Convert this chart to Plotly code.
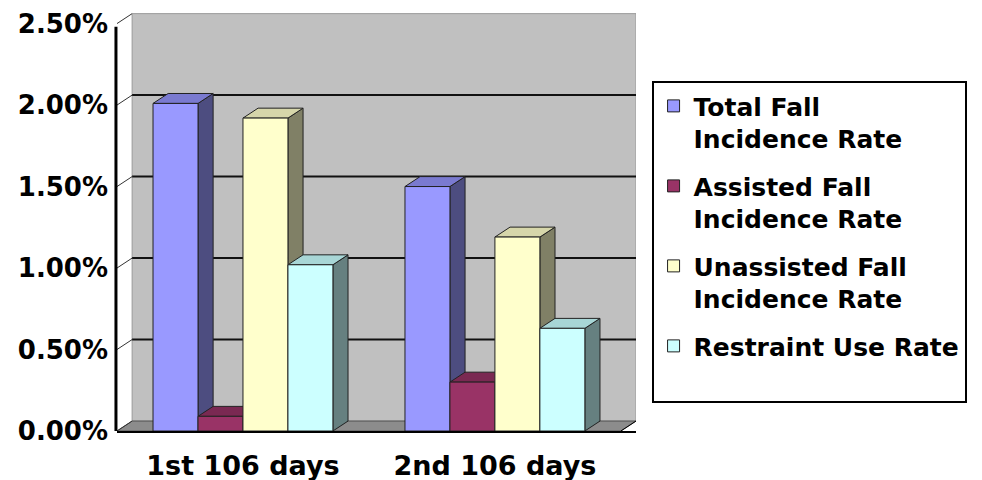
import plotly.graph_objects as go

# ---- data (values in percent) ----
categories = ["1st 106 days", "2nd 106 days"]
series_names = ["Total Fall<br>Incidence Rate", "Assisted Fall<br>Incidence Rate",
                "Unassisted Fall<br>Incidence Rate", "Restraint Use Rate<br>\u00a0"]
total = [2.01, 1.50]
assisted = [0.09, 0.30]
unassisted = [1.92, 1.19]
restraint = [1.02, 0.63]
y_ticks = [0, 0.5, 1.0, 1.5, 2.0, 2.5]

# ---- styles ----
front_colors = ["#9999FF", "#993366", "#FFFFCC", "#CCFFFF"]
top_colors = ["#7A7AD0", "#7A2952", "#D6D6AA", "#A8D6D6"]
side_colors = ["#4D4D80", "#4D1A33", "#808066", "#668080"]
FONT = "DejaVu Sans"

series = [total, assisted, unassisted, restraint]
n = len(series)
xpos = list(range(len(categories)))
bargap = 0.286
group_w = 1 - bargap
bw = group_w / n
DX = 0.06      # depth offset in category units
DY = 0.061     # depth offset in percent units
ymax = y_ticks[-1]

fig = go.Figure()
for i, (vals, name) in enumerate(zip(series, series_names)):
    fig.add_trace(go.Bar(
        x=xpos, y=vals, name=name, legendgroup=str(i),
        marker=dict(color=front_colors[i], line=dict(color="#222222", width=1)),
    ))

shapes = []
x0, x1 = -0.5, len(categories) - 0.5
# back wall
shapes.append(dict(type="rect", xref="x", yref="y", x0=x0 + DX, x1=x1 + DX, y0=DY, y1=ymax + DY,
                   fillcolor="#C0C0C0", line=dict(color="#9A9A9A", width=1), layer="below"))
# floor
shapes.append(dict(type="path", xref="x", yref="y",
                   path=f"M {x0},0 L {x1},0 L {x1+DX},{DY} L {x0+DX},{DY} Z",
                   fillcolor="#8C8C8C", line=dict(color="#555555", width=1), layer="below"))
# gridlines on back wall + connectors
for t in y_ticks[1:-1]:
    shapes.append(dict(type="line", xref="x", yref="y", x0=x0 + DX, x1=x1 + DX, y0=t + DY, y1=t + DY,
                       line=dict(color="#111111", width=2), layer="below"))
for t in y_ticks:
    shapes.append(dict(type="line", xref="x", yref="y", x0=x0, x1=x0 + DX, y0=t, y1=t + DY,
                       line=dict(color="#333333", width=1), layer="below"))
# 3D faces for each bar
for ci in xpos:
    for i, vals in enumerate(series):
        v = vals[ci]
        left = ci - group_w / 2 + i * bw
        right = left + bw
        shapes.append(dict(type="path", xref="x", yref="y",
                           path=f"M {right},0 L {right+DX},{DY} L {right+DX},{v+DY} L {right},{v} Z",
                           fillcolor=side_colors[i], line=dict(color="#222222", width=1), layer="below"))
        shapes.append(dict(type="path", xref="x", yref="y",
                           path=f"M {left},{v} L {right},{v} L {right+DX},{v+DY} L {left+DX},{v+DY} Z",
                           fillcolor=top_colors[i], line=dict(color="#222222", width=1), layer="below"))
# axis lines (paper x so they are not clipped)
shapes.append(dict(type="line", xref="paper", yref="y", x0=-0.002, x1=-0.002, y0=-0.02, y1=ymax - 0.02,
                   line=dict(color="black", width=3)))
shapes.append(dict(type="line", xref="x", yref="y", x0=x1, x1=x1 + DX, y0=0, y1=DY,
                   line=dict(color="black", width=1)))

fig.update_layout(
    width=982, height=480,
    margin=dict(l=117, r=346, t=12, b=49),
    paper_bgcolor="white", plot_bgcolor="white",
    barmode="group", bargap=bargap, bargroupgap=0,
    shapes=shapes,
    font=dict(family=FONT, size=26, color="black", weight="bold"),
    showlegend=True,
    legend=dict(x=1.03, y=0.835, xanchor="left", yanchor="top",
                bordercolor="black", borderwidth=2, bgcolor="white",
                font=dict(family=FONT, size=25, color="black", weight="bold"),
                valign="top", tracegroupgap=12, itemwidth=30, traceorder="grouped"),
    xaxis=dict(range=[x0, x1 + DX], tickvals=xpos, ticktext=categories,
               tickfont=dict(size=27),
               showgrid=False, zeroline=False, showline=True, linecolor="black", linewidth=2,
               ticks="", ticklabelstandoff=10, fixedrange=True, automargin=False),
    yaxis=dict(range=[0, ymax + DY + 0.01], tickvals=y_ticks,
               ticktext=[f"{t:.2f}%" for t in y_ticks],
               tickfont=dict(size=26),
               showgrid=False, zeroline=False, showline=False, ticks="",
               ticklabelstandoff=8, fixedrange=True, automargin=False),
)

fig.write_html("out.html")
